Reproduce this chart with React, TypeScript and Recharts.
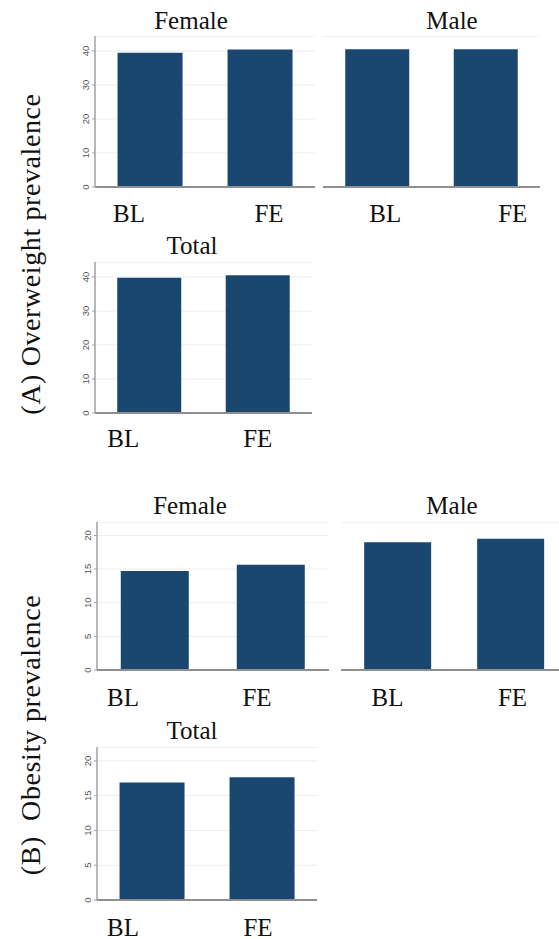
import React from "react";
import { BarChart, Bar, XAxis, YAxis, CartesianGrid, ReferenceLine } from "recharts";

const categories = ["BL", "FE"];
const owFemale = [39.5, 40.4];
const owMale = [40.5, 40.5];
const owTotal = [39.8, 40.5];
const obFemale = [14.7, 15.65];
const obMale = [19.0, 19.5];
const obTotal = [16.9, 17.65];
const owTicks = [0, 10, 20, 30, 40];
const obTicks = [0, 5, 10, 15, 20];

const NAVY = "#1a476f";
const SERIF = "'Liberation Serif', 'Times New Roman', serif";
const YW = 40;
const XH = 50;

const rows = (vals: number[]) => categories.map((c, i) => ({ cat: c, v: vals[i] }));

function CatTick(props: any) {
  const { x, y, payload, index, shifts, dy } = props;
  return (
    <text x={x + shifts[index]} y={y + dy} textAnchor="middle" dominantBaseline="central"
      fontFamily={SERIF} fontSize={25} fill="#111">
      {payload.value}
    </text>
  );
}

function ValTick(props: any) {
  const { x, y, payload } = props;
  return (
    <g transform={`translate(${x - 7}, ${y}) rotate(-90)`}>
      <text x={0} y={0} textAnchor="middle" dominantBaseline="central"
        fontFamily="Arial, 'Liberation Sans', sans-serif" fontSize={9.5} fill="#555">
        {payload.value}
      </text>
    </g>
  );
}

type PanelProps = {
  left: number; top: number; w: number; h: number;
  vals: number[]; max: number; ticks: number[];
  showY: boolean; shifts: number[]; dy: number;
};

function Panel({ left, top, w, h, vals, max, ticks, showY, shifts, dy }: PanelProps) {
  return (
    <div style={{ position: "absolute", left: left - YW, top }}>
      <BarChart width={YW + w} height={h + XH} data={rows(vals)}
        margin={{ top: 0, right: 0, bottom: 0, left: 0 }} barCategoryGap="20.5%">
        <CartesianGrid vertical={false} stroke="#ececec" />
        <ReferenceLine y={max} stroke="#f0f0f0" />
        <XAxis dataKey="cat" height={XH} tickLine={false} tickSize={0} tickMargin={0}
          axisLine={{ stroke: "#8f8f8f", strokeWidth: 2 }}
          tick={(p: any) => <CatTick {...p} shifts={shifts} dy={dy} />} interval={0} />
        <YAxis width={YW} domain={[0, max]} ticks={ticks} allowDataOverflow
          tickSize={3} tickMargin={0}
          axisLine={showY ? { stroke: "#a0a0a0", strokeWidth: 1.5 } : false}
          tickLine={showY ? { stroke: "#a0a0a0" } : false}
          tick={showY ? (p: any) => <ValTick {...p} /> : false} />
        <Bar dataKey="v" fill={NAVY} isAnimationActive={false} />
      </BarChart>
    </div>
  );
}

function Titles() {
  const t = (x: number, y: number, s: string) => (
    <text x={x} y={y} textAnchor="middle" dominantBaseline="central" fontFamily={SERIF} fontSize={25} fill="#111">{s}</text>
  );
  const v = (x: number, y: number, s: string) => (
    <g transform={`translate(${x}, ${y}) rotate(-90)`}>
      <text x={0} y={0} textAnchor="middle" dominantBaseline="central"
        fontFamily={SERIF} fontSize={28} letterSpacing={0.6} fill="#111" style={{ whiteSpace: "pre" }}>{s}</text>
    </g>
  );
  return (
    <svg width={559} height={939} style={{ position: "absolute", left: 0, top: 0, pointerEvents: "none" }}>
      {t(191, 20, "Female")}
      {t(452, 20, "Male")}
      {t(192, 245, "Total")}
      {t(190, 505, "Female")}
      {t(452, 505, "Male")}
      {t(192, 730, "Total")}
      {v(30, 254, "(A) Overweight prevalence")}
      {v(30, 735, "(B)  Obesity prevalence")}
    </svg>
  );
}

export default function App() {
  return (
    <div style={{ position: "absolute", left: 0, top: 0, width: 559, height: 939, overflow: "hidden", background: "#fff" }}>
      <Panel left={95} top={36} w={220} h={151} vals={owFemale} max={44.4} ticks={owTicks} showY shifts={[-21, 9]} dy={26} />
      <Panel left={323} top={36} w={217} h={151} vals={owMale} max={44.4} ticks={owTicks} showY={false} shifts={[8, 27]} dy={26} />
      <Panel left={95} top={262} w={217} h={151} vals={owTotal} max={44.4} ticks={owTicks} showY shifts={[-26, 0]} dy={25} />
      <Panel left={97} top={522} w={232} h={148} vals={obFemale} max={22} ticks={obTicks} showY shifts={[-32, -14]} dy={27} />
      <Panel left={341} top={522} w={226} h={148} vals={obMale} max={22} ticks={obTicks} showY={false} shifts={[-10, 2]} dy={27} />
      <Panel left={97} top={747} w={220} h={153} vals={obTotal} max={22} ticks={obTicks} showY shifts={[-29, -4]} dy={27} />
      <Titles />
    </div>
  );
}
